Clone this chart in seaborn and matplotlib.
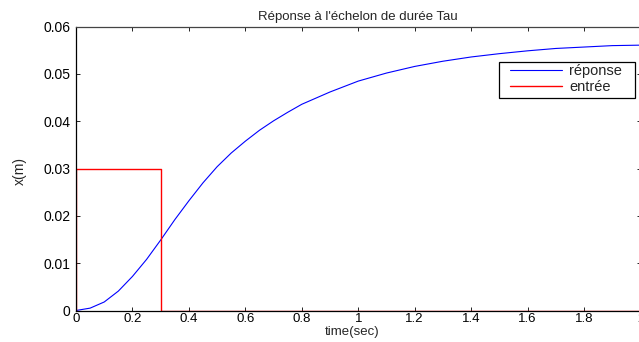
import matplotlib
matplotlib.use("Agg")
import matplotlib.pyplot as plt
from matplotlib.patches import Rectangle
import seaborn as sns
import pandas as pd

# Data
t_rep = [0.0, 0.05, 0.1, 0.15, 0.2, 0.25, 0.3, 0.35, 0.4, 0.45, 0.5, 0.55, 0.6, 0.65,
         0.7, 0.75, 0.8, 0.9, 1.0, 1.1, 1.2, 1.3, 1.4, 1.5, 1.6, 1.7, 1.8, 1.9, 2.0]
x_rep = [0.0, 0.0005, 0.0018, 0.0041, 0.0072, 0.0108, 0.0149, 0.0192, 0.0232, 0.0270,
         0.0304, 0.0333, 0.0358, 0.0381, 0.0401, 0.0419, 0.0436, 0.0462, 0.0485, 0.0502,
         0.0516, 0.0527, 0.0536, 0.0543, 0.0549, 0.0554, 0.0557, 0.0560, 0.0561]
t_in = [0.0, 0.0, 0.3, 0.3, 2.0]
x_in = [0.0, 0.03, 0.03, 0.0, 0.0]
xticks = [0, 0.2, 0.4, 0.6, 0.8, 1.0, 1.2, 1.4, 1.6, 1.8, 2.0]
xtick_labels = ["0", "0.2", "0.4", "0.6", "0.8", "1", "1.2", "1.4", "1.6", "1.8", "2"]
yticks = [0, 0.01, 0.02, 0.03, 0.04, 0.05, 0.06]
ytick_labels = ["0", "0.01", "0.02", "0.03", "0.04", "0.05", "0.06"]
title = "Réponse à l'échelon de durée Tau"
xlabel = "time(sec)"
ylabel = "x(m)"
labels = ["réponse", "entrée"]

sns.set_style("white")
plt.rcParams["font.family"] = ["Liberation Sans", "DejaVu Sans"]
plt.rcParams["font.size"] = 10

df_rep = pd.DataFrame({"t": t_rep, "x": x_rep})
df_in = pd.DataFrame({"t": t_in, "x": x_in})

W, H = 639, 342
fig = plt.figure(figsize=(W / 100, H / 100), dpi=100)
ax = fig.add_axes([76 / W, (H - 310.5) / H, (640.5 - 76) / W, (310.5 - 26.7) / H])

sns.lineplot(data=df_rep, x="t", y="x", ax=ax, color="#0000ff", linewidth=0.8,
             label=labels[0], sort=False, estimator=None)
sns.lineplot(data=df_in, x="t", y="x", ax=ax, color="#ff0000", linewidth=1.0,
             label=labels[1], sort=False, estimator=None)

ax.set_xlim(0, 2)
ax.set_ylim(0, 0.06)
ax.set_xticks(xticks)
ax.set_xticklabels(xtick_labels)
ax.set_yticks(yticks)
ax.set_yticklabels(ytick_labels)
ax.tick_params(direction="in", length=3, width=0.6, top=True, right=True,
               bottom=True, left=True, labelsize=10, colors="black", pad=4)
ax.tick_params(axis="x", pad=2, labelsize=9.5)
for s in ax.spines.values():
    s.set_visible(True)
    s.set_color("black")
    s.set_linewidth(0.9)
ax.spines["top"].set_color("#444444")

ax.set_title(title, fontsize=9.5, pad=5)
ax.set_xlabel(xlabel, fontsize=9.5)
ax.xaxis.set_label_coords(0.49, (310.5 - 326.5) / 283.8)
ax.set_ylabel(ylabel, fontsize=10)
ax.yaxis.set_label_coords((27 - 76) / 564.5, 0.49)

# legend box
ax.add_patch(Rectangle((0.7493, 0.7498), 0.2409, 0.1247, transform=ax.transAxes,
                       facecolor="white", edgecolor="black", linewidth=0.9,
                       zorder=4.5, clip_on=False))
leg = ax.legend(loc="center left", bbox_to_anchor=(0.7688, 0.8157), frameon=False,
                fontsize=10.5, handlelength=3.55, borderpad=0, labelspacing=0.1,
                handletextpad=0.5, borderaxespad=0)
leg.set_zorder(5)

fig.savefig("out.png", dpi=100)
